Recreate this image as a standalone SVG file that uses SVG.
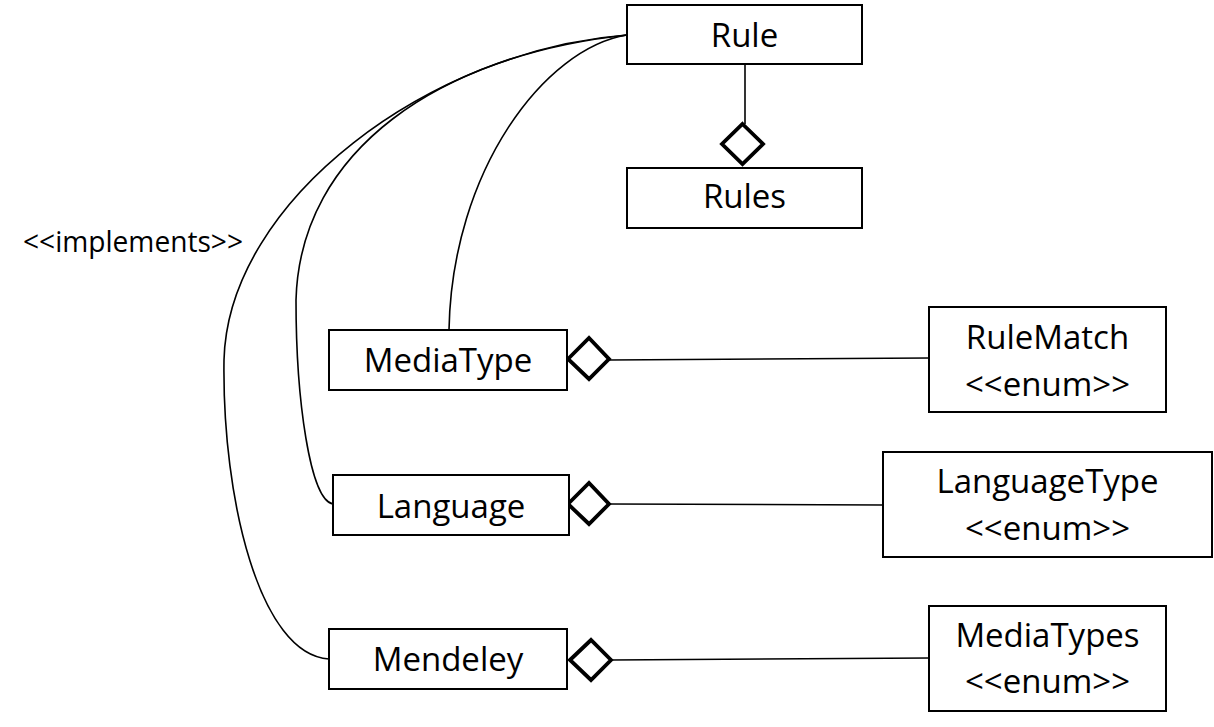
<svg xmlns="http://www.w3.org/2000/svg" width="1214" height="727" viewBox="0 0 1214 727">
<style>
.box{fill:#fff;stroke:#000;stroke-width:2}
.t{font-family:"Open Sans","Liberation Sans",sans-serif;font-size:33px;fill:#000;text-anchor:middle}
.lbl{font-family:"Open Sans","Liberation Sans",sans-serif;font-size:30px;fill:#000}
.c{fill:none;stroke:#000;stroke-width:1.6}
.dia{fill:#fff;stroke:#000;stroke-width:3.8}
</style>
<rect width="1214" height="727" fill="#fff"/>
<g id="connectors">
<path class="c" d="M627,35 C545,48 452,170 449,330"/>
<path class="c" d="M627,35 C440,55 300,150 296,300 C296,400 310,500 333,504"/>
<path class="c" d="M627,35 C430,50 228,200 224,360 C222,500 260,655 329,659"/>
<line class="c" x1="745" y1="64" x2="745" y2="124"/>
<path class="dia" d="M742.5,124 L763,144 L742.5,164 L722,144 Z"/>
<line class="c" x1="609" y1="360" x2="929" y2="358"/>
<path class="dia" d="M568,359 L589,338 L609,359 L589,379 Z"/>
<line class="c" x1="609" y1="504" x2="883" y2="505"/>
<path class="dia" d="M568,504 L589,483 L609,504 L589,524 Z"/>
<line class="c" x1="611" y1="660" x2="929" y2="658"/>
<path class="dia" d="M570,660 L591,640 L611,660 L591,680 Z"/>
<text class="lbl" x="23" y="252" textLength="220" lengthAdjust="spacingAndGlyphs">&lt;&lt;implements&gt;&gt;</text>
</g>
<g id="rule">
<rect class="box" x="627" y="5" width="235" height="59"/>
<text class="t" x="744.5" y="47">Rule</text>
</g>
<g id="rules">
<rect class="box" x="627" y="168" width="235" height="60"/>
<text class="t" x="744.5" y="208">Rules</text>
</g>
<g id="mediatype">
<rect class="box" x="329" y="330" width="238" height="60"/>
<text class="t" x="448" y="372">MediaType</text>
</g>
<g id="language">
<rect class="box" x="333" y="475" width="236" height="60"/>
<text class="t" x="451" y="518">Language</text>
</g>
<g id="mendeley">
<rect class="box" x="329" y="629" width="238" height="60"/>
<text class="t" x="448" y="671">Mendeley</text>
</g>
<g id="rulematch">
<rect class="box" x="929" y="307" width="237" height="105"/>
<text class="t" x="1047.5" y="349">RuleMatch</text>
<text class="t" x="1047.5" y="396">&lt;&lt;enum&gt;&gt;</text>
</g>
<g id="languagetype">
<rect class="box" x="883" y="452" width="329" height="105"/>
<text class="t" x="1047.5" y="493">LanguageType</text>
<text class="t" x="1047.5" y="540">&lt;&lt;enum&gt;&gt;</text>
</g>
<g id="mediatypes">
<rect class="box" x="929" y="606" width="237" height="105"/>
<text class="t" x="1047.5" y="647">MediaTypes</text>
<text class="t" x="1047.5" y="693">&lt;&lt;enum&gt;&gt;</text>
</g>
</svg>
